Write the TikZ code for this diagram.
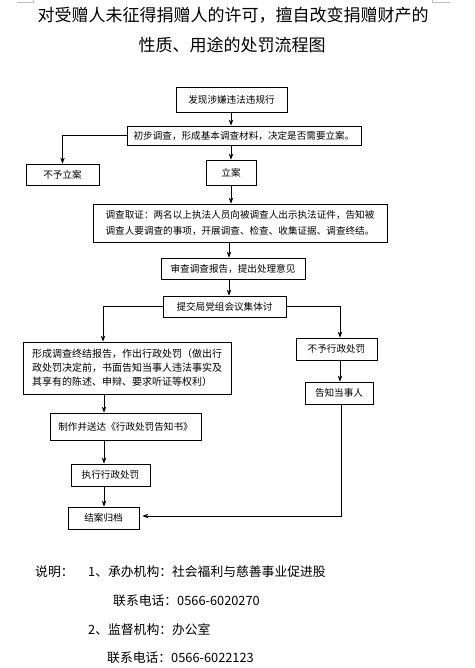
\documentclass[tikz,border=0pt]{standalone}
\usepackage{fontspec}
\setmainfont{Noto Sans CJK SC}
\newfontfamily\cjk{Noto Sans CJK SC}
\usetikzlibrary{arrows.meta}
\tikzset{
  box/.style={draw=black, line width=0.8pt, inner sep=0pt, font=\cjk\fontsize{9.6}{16}\selectfont},
  conn/.style={draw=black, line width=0.8pt},
  arr/.style={conn, -{Stealth[length=6pt,width=4.5pt]}},
  note/.style={anchor=west, inner sep=0pt, font=\cjk\fontsize{12.8}{14}\selectfont},
  ttl/.style={inner sep=0pt, font=\cjk\fontsize{17}{20}\selectfont},
  corner/.style={draw=black!25, line width=0.6pt}
}
\begin{document}
\begin{tikzpicture}[x=1pt,y=-1pt]
\useasboundingbox (0,0) rectangle (474,668);
% corner marks
\draw[corner] (17,2) -- (33,2) -- (33,0);
\draw[corner] (450,2) -- (432,2) -- (432,0);
% title
\node[ttl] (t1) at (233,15) {对受赠人未征得捐赠人的许可，擅自改变捐赠财产的};
\node[ttl] (t2) at (232,45) {性质、用途的处罚流程图};
% boxes
\node[box, minimum width=111pt, minimum height=25pt] (b1) at (231.5,99.5) {发现涉嫌违法违规行};
\node[box, minimum width=234pt, minimum height=19pt] (b2) at (244,135.5) {初步调查，形成基本调查材料，决定是否需要立案。};
\node[box, minimum width=73pt, minimum height=21pt] (b3) at (62.5,174.5) {不予立案};
\node[box, minimum width=50pt, minimum height=25pt] (b4) at (231,172.5) {立案};
\node[box, minimum width=294pt, minimum height=38pt, align=left] (b5) at (240,223) {调查取证：两名以上执法人员向被调查人出示执法证件，告知被\\调查人要调查的事项，开展调查、检查、收集证据、调查终结。};
\node[box, minimum width=144pt, minimum height=21pt] (b6) at (233,268.5) {审查调查报告，提出处理意见};
\node[box, minimum width=123pt, minimum height=21pt] (b7) at (224.5,306.5) {提交局党组会议集体讨};
\node[box, minimum width=208pt, minimum height=52pt, align=left, font=\cjk\fontsize{10}{14}\selectfont] (b8) at (127,368) {形成调查终结报告，作出行政处罚（做出行\\政处罚决定前，书面告知当事人违法事实及\\其享有的陈述、申辩、要求听证等权利）};
\node[box, minimum width=81pt, minimum height=22pt] (b9) at (336.5,349) {不予行政处罚};
\node[box, minimum width=68pt, minimum height=22pt] (b10) at (339,393) {告知当事人};
\node[box, minimum width=151pt, minimum height=27pt] (b11) at (125.5,426.5) {制作并送达《行政处罚告知书》};
\node[box, minimum width=79pt, minimum height=22pt] (b12) at (110.5,475) {执行行政处罚};
\node[box, minimum width=71pt, minimum height=22pt] (b13) at (103.5,518) {结案归档};
% connectors
\draw[arr] (b1.south -| b4.north) -- (b2.north -| b4.north);
\draw[arr] (b2.west) -| (b3.north);
\draw[arr] (b2.south -| b4.north) -- (b4.north);
\draw[arr] (b4.south) -- (b4.south |- b5.north);
\coordinate (c6) at (229,0);
\draw[arr] (c6 |- b5.south) -- (c6 |- b6.north);
\draw[arr] (c6 |- b6.south) -- (c6 |- b7.north);
\coordinate (cl) at (103,0);
\coordinate (cr) at (340,0);
\draw[arr] (b7.west) -| (cl |- b8.north);
\draw[arr] (b7.east) -| (cr |- b9.north);
\draw[arr] (cr |- b9.south) -- (cr |- b10.north);
\coordinate (cl2) at (104,0);
\draw[arr] (cl2 |- b8.south) -- (cl2 |- b11.north);
\draw[arr] (cl2 |- b11.south) -- (cl2 |- b12.north);
\draw[arr] (cl2 |- b12.south) -- (cl2 |- b13.north);
\coordinate (cc) at (341,516);
\draw[arr] (b10.south -| cc) -- (cc) -- ([xshift=3pt]b13.east |- cc);
% notes
\node[note] (n0) at (35,572) {说明：};
\node[note] (n1) at (88,572) {1、承办机构：社会福利与慈善事业促进股};
\node[note] (n2) at (113,601) {联系电话：0566-6020270};
\node[note] (n3) at (88,630) {2、监督机构：办公室};
\node[note] (n4) at (107,658) {联系电话：0566-6022123};
\end{tikzpicture}
\end{document}
